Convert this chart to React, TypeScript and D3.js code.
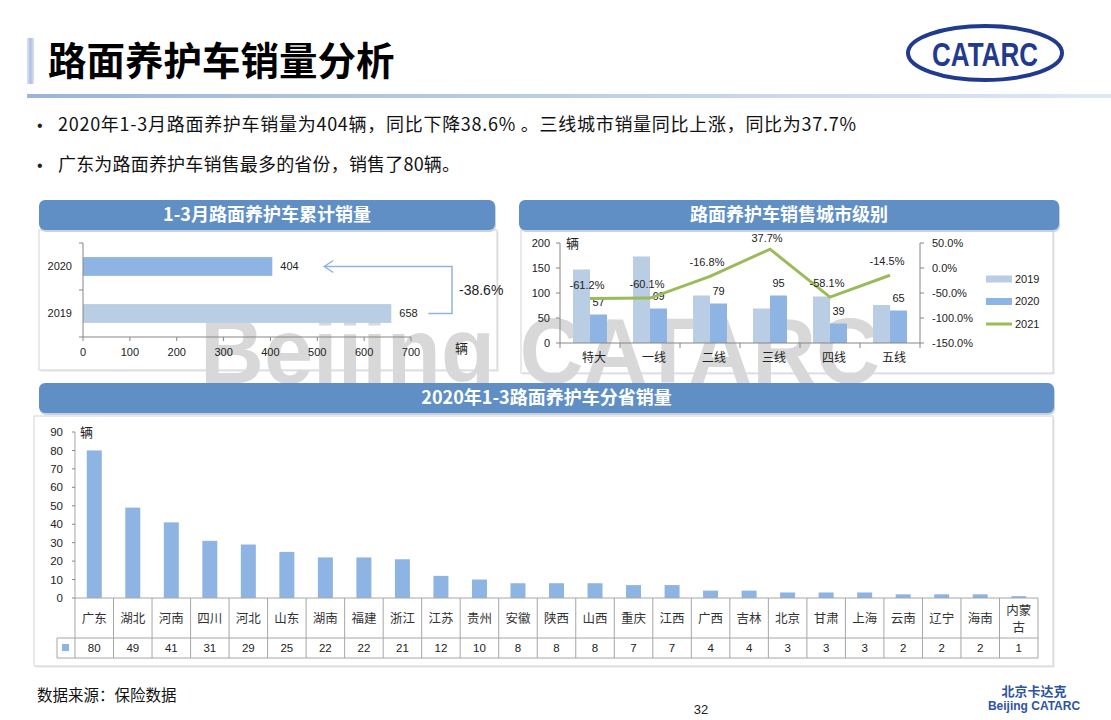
import React from 'react';
import * as d3 from 'd3';

// 1-3月累计销量
const totalYears = ['2020', '2019'];
const totalValues = [404, 658];
const totalChange = '-38.6%';

// 城市级别
const cities = ['特大', '一线', '二线', '三线', '四线', '五线'];
const city2019 = [147, 173, 95, 69, 93, 76];
const city2020 = [57, 69, 79, 95, 39, 65];
const cityGrowth = [-61.2, -60.1, -16.8, 37.7, -58.1, -14.5];
const cityLegend = ['2019', '2020', '2021'];

// 分省销量
const provinces = ['广东', '湖北', '河南', '四川', '河北', '山东', '湖南', '福建', '浙江', '江苏', '贵州', '安徽', '陕西', '山西', '重庆', '江西', '广西', '吉林', '北京', '甘肃', '上海', '云南', '辽宁', '海南', '内蒙古'];
const provinceValues = [80, 49, 41, 31, 29, 25, 22, 22, 21, 12, 10, 8, 8, 8, 7, 7, 4, 4, 3, 3, 3, 2, 2, 2, 1];

const CJK = '"Noto Sans CJK SC", "Noto Sans", sans-serif';
const NUM = '"Liberation Sans", Arial, sans-serif';
const HEAD = '#5f8fc5';
const C2019 = '#b9cde5';
const C2020 = '#8eb4e3';
const LINE = '#9bbb59';
const AXIS = '#868686';
const GRID = '#a6a6a6';

const PanelHeader = ({ x, y, w, title }: { x: number; y: number; w: number; title: string }) => (
  <g>
    <rect x={x + 1} y={y + 2} width={w} height={30} rx={6} fill="#c9d3e0" />
    <rect x={x} y={y} width={w} height={30} rx={6} fill={HEAD} />
    <text x={x + w / 2} y={y + 15} dy="0.36em" textAnchor="middle" fill="#fff" fontFamily={CJK} fontWeight={700} fontSize={18}>
      {title}
    </text>
  </g>
);

const Box = ({ x, y, w, h }: { x: number; y: number; w: number; h: number }) => (
  <g>
    <rect x={x + 1.5} y={y + 1.5} width={w} height={h} fill="#e6e6e6" />
    <rect x={x} y={y} width={w} height={h} fill="#fff" stroke="#d4d4d4" strokeWidth={1} />
  </g>
);

const TotalChart = () => {
  const x = d3.scaleLinear().domain([0, 700]).range([83, 411]);
  const y = d3.scaleBand().domain(totalYears).range([243, 337]).paddingInner(0.6).paddingOuter(0.3);
  const ticks = d3.range(0, 701, 100);
  const yA = y('2020')! + y.bandwidth() / 2;
  const yB = y('2019')! + y.bandwidth() / 2;
  const ax = x(658) + 37;
  const bx = x(700) + 41;
  const cx = x(404) + 52;
  return (
    <g>
      {totalYears.map((c, i) => (
        <g key={c}>
          <rect x={x(0)} y={y(c)} width={x(totalValues[i]) - x(0)} height={y.bandwidth()} fill={i === 0 ? C2020 : C2019} />
          <text x={x(totalValues[i]) + 8} y={y(c)! + y.bandwidth() / 2} dy="0.36em" fontFamily={NUM} fontSize={11} fill="#222">{totalValues[i]}</text>
          <text x={72} y={y(c)! + y.bandwidth() / 2} dy="0.36em" textAnchor="end" fontFamily={NUM} fontSize={11} fill="#222">{c}</text>
        </g>
      ))}
      <line x1={x(0)} x2={x(0)} y1={243} y2={337} stroke={AXIS} />
      {[243, 290, 337].map((t) => <line key={t} x1={x(0) - 4} x2={x(0)} y1={t} y2={t} stroke={AXIS} />)}
      <line x1={x(0)} x2={x(700)} y1={337} y2={337} stroke={AXIS} />
      {ticks.map((t) => (
        <g key={t}>
          <line x1={x(t)} x2={x(t)} y1={337} y2={341} stroke={AXIS} />
          <text x={x(t)} y={352} dy="0.36em" textAnchor="middle" fontFamily={NUM} fontSize={11} fill="#222">{t}</text>
        </g>
      ))}
      <text x={455} y={348} dy="0.36em" fontFamily={CJK} fontSize={13} fill="#222">辆</text>
      <path d={`M${ax},${yB} H${bx} V${yA} H${cx}`} fill="none" stroke={C2020} strokeWidth={1.5} />
      <path d={`M${cx + 9},${yA - 6} L${cx},${yA} L${cx + 9},${yA + 6}`} fill="none" stroke={C2020} strokeWidth={1.5} />
      <text x={bx + 7} y={(yA + yB) / 2} dy="0.36em" fontFamily={NUM} fontSize={14} fill="#222">{totalChange}</text>
    </g>
  );
};

const CityChart = () => {
  const x = d3.scaleBand().domain(cities).range([560, 920]);
  const yL = d3.scaleLinear().domain([0, 200]).range([343, 243]);
  const yR = d3.scaleLinear().domain([-150, 50]).range([343, 243]);
  const bw = 17;
  const mid = (c: string) => x(c)! + x.bandwidth() / 2;
  const line = d3.line<number>().x((_, i) => mid(cities[i])).y((d) => yR(d));
  const fmtPct = (v: number) => `${v.toFixed(1)}%`;
  return (
    <g>
      {cities.map((c, i) => (
        <g key={c}>
          <rect x={mid(c) - bw} y={yL(city2019[i])} width={bw} height={yL(0) - yL(city2019[i])} fill={C2019} />
          <rect x={mid(c)} y={yL(city2020[i])} width={bw} height={yL(0) - yL(city2020[i])} fill={C2020} />
          <text x={mid(c) + bw / 2} y={yL(city2020[i]) - 12} dy="0.36em" textAnchor="middle" fontFamily={NUM} fontSize={11} fill="#222">{city2020[i]}</text>
          <text x={mid(c) + 4} y={358} dy="0.36em" textAnchor="middle" fontFamily={CJK} fontSize={12} fill="#222">{c}</text>
        </g>
      ))}
      <line x1={560} x2={920} y1={343} y2={343} stroke={AXIS} />
      {d3.range(cities.length + 1).map((i) => (
        <line key={i} x1={560 + i * x.step()} x2={560 + i * x.step()} y1={343} y2={348} stroke={AXIS} />
      ))}
      <line x1={560} x2={560} y1={243} y2={343} stroke={AXIS} />
      {yL.ticks(4).map((t) => (
        <g key={t}>
          <line x1={556} x2={560} y1={yL(t)} y2={yL(t)} stroke={AXIS} />
          <text x={550} y={yL(t)} dy="0.36em" textAnchor="end" fontFamily={NUM} fontSize={11} fill="#222">{t}</text>
        </g>
      ))}
      <line x1={920} x2={920} y1={243} y2={343} stroke={AXIS} />
      {yR.ticks(4).map((t) => (
        <g key={t}>
          <line x1={920} x2={924} y1={yR(t)} y2={yR(t)} stroke={AXIS} />
          <text x={932} y={yR(t)} dy="0.36em" fontFamily={NUM} fontSize={11} fill="#222">{fmtPct(t)}</text>
        </g>
      ))}
      <text x={566} y={243} dy="0.36em" fontFamily={CJK} fontSize={13} fill="#222">辆</text>
      <path d={line(cityGrowth)!} fill="none" stroke={LINE} strokeWidth={3} />
      {cities.map((c, i) => (
        <text key={c} x={mid(c) - 3} y={yR(cityGrowth[i]) - (cityGrowth[i] > 0 ? 11 : 14)} dy="0.36em" textAnchor="middle" fontFamily={NUM} fontSize={11} fill="#222">{fmtPct(cityGrowth[i])}</text>
      ))}
      {cityLegend.map((s, i) => (
        <g key={s} transform={`translate(986, ${279 + i * 22.5})`}>
          {i < 2 ? (
            <rect x={0} y={-3.5} width={26} height={7} fill={i === 0 ? C2019 : C2020} />
          ) : (
            <line x1={0} x2={26} y1={0} y2={0} stroke={LINE} strokeWidth={3} />
          )}
          <text x={29} y={0} dy="0.36em" fontFamily={NUM} fontSize={11} fill="#222">{s}</text>
        </g>
      ))}
    </g>
  );
};

const ProvinceChart = () => {
  const x = d3.scaleBand().domain(provinces).range([75, 1038]);
  const y = d3.scaleLinear().domain([0, 90]).range([598, 432]);
  const bw = 15;
  const rowTop = 598;
  const rowMid = 638;
  const rowBot = 658;
  return (
    <g>
      {provinces.map((p, i) => {
        const cx = x(p)! + x.bandwidth() / 2;
        return (
          <g key={p}>
            <rect x={cx - bw / 2} y={y(provinceValues[i])} width={bw} height={y(0) - y(provinceValues[i])} fill={C2020} />
            {p.length > 2 ? (
              <text x={cx} y={618} textAnchor="middle" fontFamily={CJK} fontSize={12.5} fill="#333">
                <tspan x={cx} y={610} dy="0.36em">{p.slice(0, 2)}</tspan>
                <tspan x={cx} y={627} dy="0.36em">{p.slice(2)}</tspan>
              </text>
            ) : (
              <text x={cx} y={618} dy="0.36em" textAnchor="middle" fontFamily={CJK} fontSize={12.5} fill="#333">{p}</text>
            )}
            <text x={cx} y={648} dy="0.36em" textAnchor="middle" fontFamily={NUM} fontSize={11.5} fill="#222">{provinceValues[i]}</text>
          </g>
        );
      })}
      <line x1={75} x2={75} y1={432} y2={rowBot} stroke={GRID} />
      {y.ticks(9).map((t) => (
        <g key={t}>
          <line x1={72} x2={75} y1={y(t)} y2={y(t)} stroke={AXIS} />
          <text x={63} y={y(t)} dy="0.36em" textAnchor="end" fontFamily={NUM} fontSize={11.5} fill="#222">{t}</text>
        </g>
      ))}
      <text x={80} y={432} dy="0.36em" fontFamily={CJK} fontSize={13} fill="#222">辆</text>
      <line x1={75} x2={1038} y1={rowTop} y2={rowTop} stroke={GRID} />
      <line x1={57} x2={1038} y1={rowMid} y2={rowMid} stroke={GRID} />
      <line x1={57} x2={1038} y1={rowBot} y2={rowBot} stroke={GRID} />
      <line x1={57} x2={57} y1={rowMid} y2={rowBot} stroke={GRID} />
      {provinces.map((p) => (
        <line key={p} x1={x(p)! + x.step()} x2={x(p)! + x.step()} y1={rowTop} y2={rowBot} stroke={GRID} />
      ))}
      <rect x={62} y={644} width={7} height={7} fill={C2020} />
    </g>
  );
};

export default function App() {
  return (
    <svg width={1111} height={720} style={{ position: 'absolute', left: 0, top: 0, background: '#fff' }}>
      <defs>
        <linearGradient id="hline" x1="0" x2="1" y1="0" y2="0">
          <stop offset="0" stopColor="#9cb4dd" />
          <stop offset="1" stopColor="#dfe7f4" />
        </linearGradient>
        <linearGradient id="vbar" x1="0" x2="1" y1="0" y2="0">
          <stop offset="0" stopColor="#dbe4f2" />
          <stop offset="0.5" stopColor="#aec1e2" />
          <stop offset="1" stopColor="#dbe4f2" />
        </linearGradient>
      </defs>
      <rect width={1111} height={720} fill="#fff" />

      {/* header */}
      <rect x={27} y={38} width={7} height={46} fill="url(#vbar)" />
      <text x={48} y={61} dy="0.36em" fontFamily={CJK} fontWeight={700} fontSize={38.5} fill="#000">路面养护车销量分析</text>
      <rect x={27} y={94} width={1084} height={4} fill="url(#hline)" />
      <ellipse cx={985} cy={53} rx={77} ry={27} fill="none" stroke="#1f3a8f" strokeWidth={4} />
      <text x={932} y={66} textLength={106} lengthAdjust="spacingAndGlyphs" fontFamily={NUM} fontWeight={700} fontSize={33} fill="#1f3a8f">CATARC</text>

      {/* bullets */}
      <text x={37} y={125} dy="0.36em" fontFamily={NUM} fontSize={16} fill="#222">•</text>
      <text x={58} y={125} dy="0.36em" textLength={798} lengthAdjust="spacing" fontFamily={CJK} fontSize={18} fill="#111">2020年1-3月路面养护车销量为404辆，同比下降38.6% 。三线城市销量同比上涨，同比为37.7%</text>
      <text x={37} y={165} dy="0.36em" fontFamily={NUM} fontSize={16} fill="#222">•</text>
      <text x={58} y={165} dy="0.36em" textLength={402} lengthAdjust="spacing" fontFamily={CJK} fontSize={18} fill="#111">广东为路面养护车销售最多的省份，销售了80辆。</text>

      {/* panels */}
      <Box x={39} y={230} w={458} h={140} />
      <Box x={521} y={230} w={532} h={143} />
      <Box x={34} y={416} w={1019} h={250} />
      <PanelHeader x={39} y={200} w={456} title="1-3月路面养护车累计销量" />
      <PanelHeader x={519} y={200} w={540} title="路面养护车销售城市级别" />

      {/* watermark */}
      <text x={200} y={383} textLength={680} lengthAdjust="spacingAndGlyphs" fontFamily={NUM} fontWeight={700} fontSize={92} fill="#d8d8d8">Beijing CATARC</text>

      <PanelHeader x={39} y={383} w={1015} title="2020年1-3路面养护车分省销量" />

      <TotalChart />
      <CityChart />
      <ProvinceChart />

      {/* footer */}
      <text x={37} y={695} dy="0.36em" fontFamily={CJK} fontSize={15.5} fill="#111">数据来源：保险数据</text>
      <text x={701} y={709} dy="0.36em" textAnchor="middle" fontFamily={NUM} fontSize={13} fill="#222">32</text>
      <text x={1034} y={691} dy="0.36em" textAnchor="middle" fontFamily={CJK} fontWeight={700} fontSize={13} fill="#2e54a1">北京卡达克</text>
      <text x={1034} y={706} dy="0.36em" textAnchor="middle" fontFamily={NUM} fontWeight={700} fontSize={12} fill="#2e54a1">Beijing CATARC</text>
    </svg>
  );
}
